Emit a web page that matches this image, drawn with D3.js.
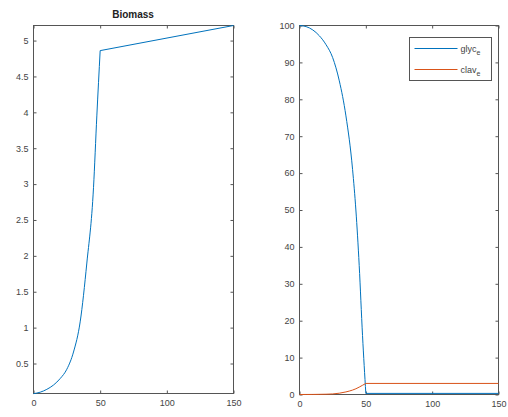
<!DOCTYPE html>
<html>
<head>
<meta charset="utf-8">
<script src="https://cdn.jsdelivr.net/npm/d3@7"></script>
<style>
  body { margin: 0; background: #fff; }
  svg { font-family: "Liberation Sans", Arial, sans-serif; }
  .tick text { fill: #444; font-size: 9px; }
  .tick line { stroke: #555; }
  .domain { stroke: none; }
</style>
</head>
<body>
<svg id="chart" width="508" height="417"></svg>
<script>
// biomass values
const bioTime = [0, 5, 10, 15, 20, 25, 30, 35, 40, 45, 47.5, 50, 150];
const bioValue = [0.08, 0.1, 0.14, 0.2, 0.29, 0.42, 0.66, 1.08, 1.9, 2.95, 3.95, 4.86, 5.21];

// extracellular glycerol and clavulanic acid (right panel)
const extTime = [0, 5, 10, 15, 20, 25, 30, 35, 40, 42.5, 45, 47.5, 50, 150];
const glycValue = [100, 99.7, 98.8, 97.2, 94.8, 91.3, 85, 75.5, 61, 50, 35, 16, 0.3, 0.3];
const clavValue = [0, 0.01, 0.02, 0.05, 0.08, 0.15, 0.35, 0.7, 1.2, 1.55, 2.0, 2.5, 3.0, 3.0];

const xTicks = [0, 50, 100, 150];
const bioTicks = [0.5, 1, 1.5, 2, 2.5, 3, 3.5, 4, 4.5, 5];
const extTicks = [0, 10, 20, 30, 40, 50, 60, 70, 80, 90, 100];
const legendLabels = ["glyc", "clav"];
const colors = ["#0072BD", "#D95319"];

const svg = d3.select("#chart");

// draw one boxed panel, matlab style (ticks inward on all four sides)
function panel(left, right, top, bottom, yDomain, yTicks, yFormat) {
  const x = d3.scaleLinear().domain([0, 150]).range([left, right]);
  const y = d3.scaleLinear().domain(yDomain).range([bottom, top]);
  const g = svg.append("g");

  g.append("g")
    .attr("transform", `translate(0,${bottom})`)
    .call(d3.axisBottom(x).tickValues(xTicks).tickSize(-3).tickSizeOuter(0).tickPadding(6));
  g.append("g")
    .attr("transform", `translate(0,${top})`)
    .call(d3.axisTop(x).tickValues(xTicks).tickSize(-3).tickSizeOuter(0).tickFormat(""));
  g.append("g")
    .attr("transform", `translate(${left},0)`)
    .call(d3.axisLeft(y).tickValues(yTicks).tickSize(-3).tickSizeOuter(0).tickPadding(5).tickFormat(yFormat));
  g.append("g")
    .attr("transform", `translate(${right},0)`)
    .call(d3.axisRight(y).tickValues(yTicks).tickSize(-3).tickSizeOuter(0).tickFormat(""));

  g.append("rect")
    .attr("x", left).attr("y", top)
    .attr("width", right - left).attr("height", bottom - top)
    .attr("fill", "none").attr("stroke", "#555").attr("stroke-width", 1);
  return { x, y, g };
}

// smooth up to the feed switch at t = 50, straight after it
function drawSeries(p, times, vals, color) {
  const pts = times.map((t, i) => [t, vals[i]]);
  const cut = times.indexOf(50);
  const smooth = d3.line().curve(d3.curveMonotoneX).x(d => p.x(d[0])).y(d => p.y(d[1]));
  const straight = d3.line().x(d => p.x(d[0])).y(d => p.y(d[1]));
  [smooth(pts.slice(0, cut + 1)), straight(pts.slice(cut))].forEach(dd => {
    p.g.append("path")
      .attr("d", dd)
      .attr("fill", "none").attr("stroke", color).attr("stroke-width", 1);
  });
}

// left: Biomass
const p1 = panel(33.5, 233.5, 25.5, 393.5, [0.082, 5.21], bioTicks, d3.format(""));
drawSeries(p1, bioTime, bioValue, colors[0]);
svg.append("text")
  .attr("x", 133).attr("y", 18)
  .attr("text-anchor", "middle")
  .attr("font-size", 10).attr("font-weight", "bold").attr("fill", "#222")
  .text("Biomass");

// right: glycerol / clavulanic acid
const p2 = panel(299.5, 498.5, 25.5, 394.5, [0, 100], extTicks, d3.format(""));
drawSeries(p2, extTime, glycValue, colors[0]);
drawSeries(p2, extTime, clavValue, colors[1]);

// legend
const lg = svg.append("g").attr("transform", "translate(409.5,37.5)");
lg.append("rect")
  .attr("width", 82).attr("height", 43)
  .attr("fill", "#fff").attr("stroke", "#555");
legendLabels.forEach((lab, k) => {
  const yy = 11 + k * 21;
  lg.append("line")
    .attr("x1", 5).attr("x2", 48).attr("y1", yy).attr("y2", yy)
    .attr("stroke", colors[k]).attr("stroke-width", 1);
  const t = lg.append("text")
    .attr("x", 51).attr("y", yy + 3)
    .attr("font-size", 9).attr("fill", "#444");
  t.append("tspan").text(lab);
  t.append("tspan").attr("dy", 3).attr("font-size", 7).text("e");
});
</script>
</body>
</html>
